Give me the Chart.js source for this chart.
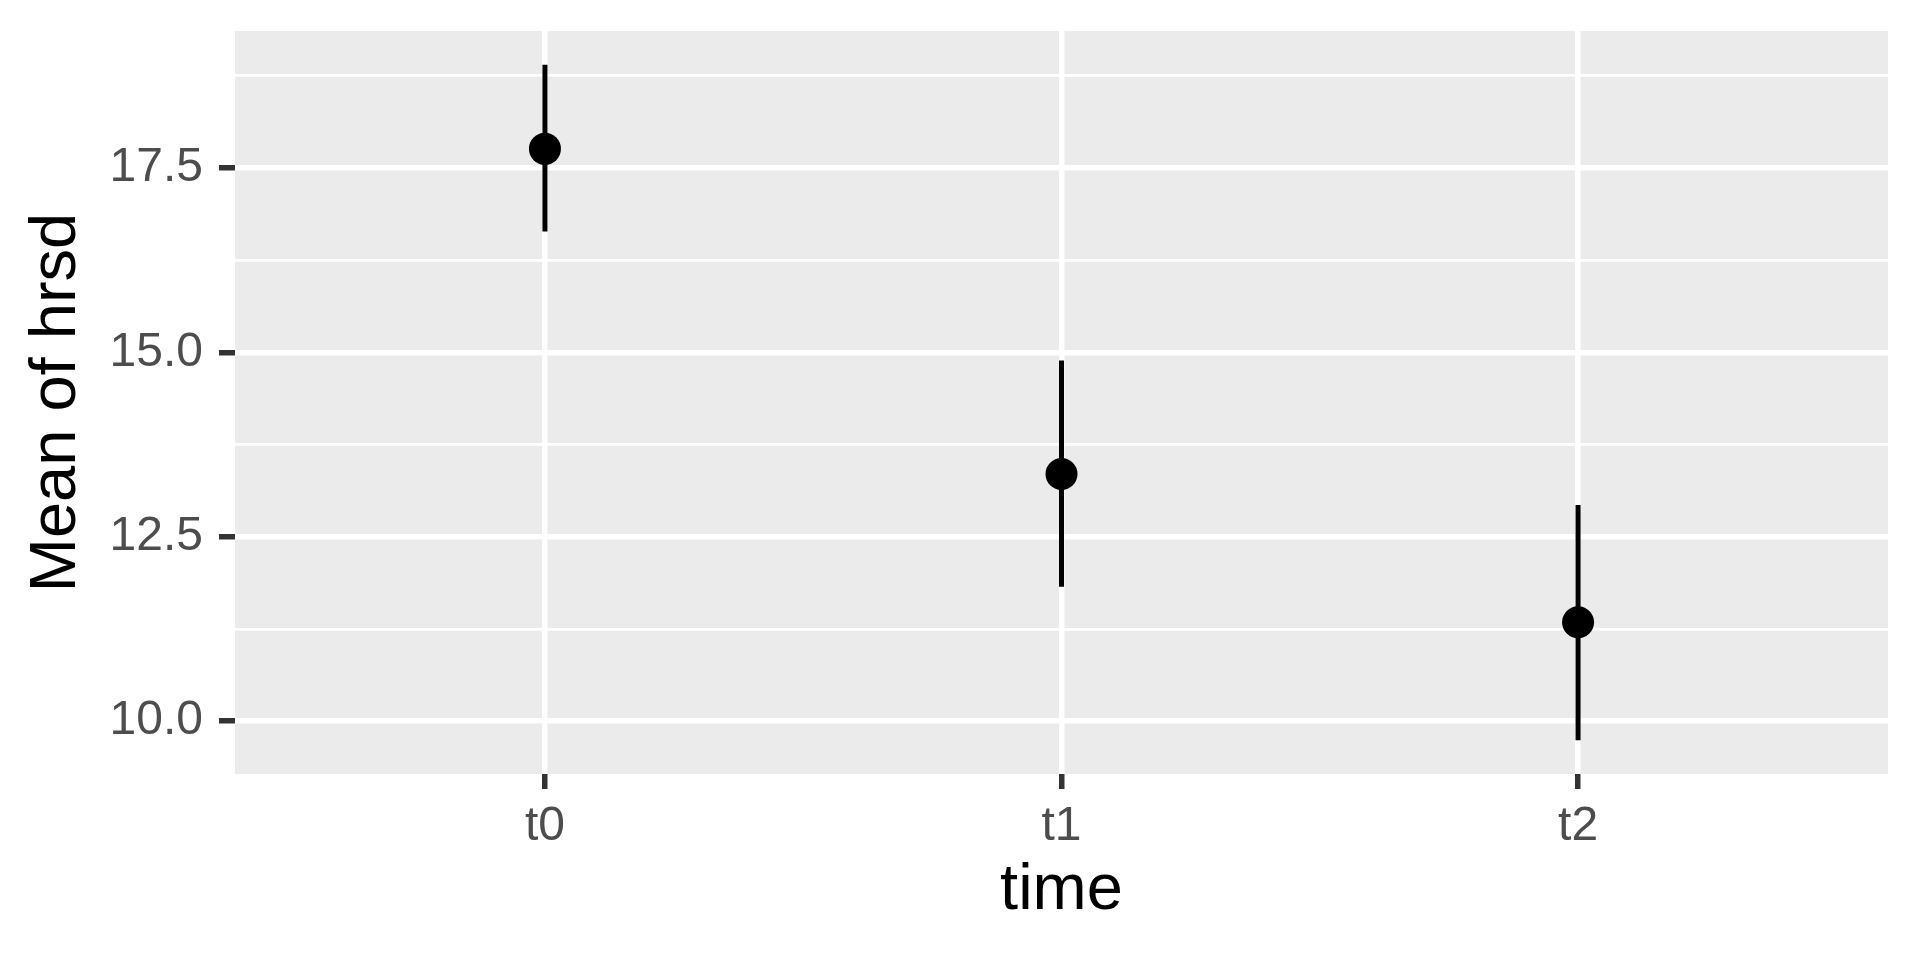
<!DOCTYPE html>
<html>
<head>
<meta charset="utf-8">
<script src="https://cdn.jsdelivr.net/npm/chart.js@4/dist/chart.umd.min.js"></script>
<style>
  html, body { margin: 0; padding: 0; background: #fff; }
  #wrap { width: 1920px; height: 960px; }
</style>
</head>
<body>
<div id="wrap"><canvas id="chart" width="1920" height="960"></canvas></div>
<script>
const categories = ['t0', 't1', 't2'];
const means = [17.76, 13.35, 11.34];
const lower = [16.64, 11.82, 9.74];
const upper = [18.90, 14.89, 12.93];
const yMajor = [10, 12.5, 15, 17.5];
const yMinor = [11.25, 13.75, 16.25, 18.75];

const FONT = "'Liberation Sans', Arial, sans-serif";

// grey panel behind the grid, like ggplot's theme_grey
const panelBg = {
    id: 'panelBg',
    beforeDraw(chart) {
        const { ctx, chartArea: a } = chart;
        ctx.save();
        ctx.fillStyle = '#EBEBEB';
        ctx.fillRect(a.left, a.top, a.right - a.left, a.bottom - a.top);
        ctx.restore();
    }
};

// vertical error bars from lower to upper, under the points
const errorBars = {
    id: 'errorBars',
    beforeDatasetsDraw(chart) {
        const { ctx, scales: { x, y } } = chart;
        ctx.save();
        ctx.strokeStyle = '#000';
        ctx.lineWidth = 5;
        ctx.lineCap = 'butt';
        categories.forEach((c, i) => {
            const px = x.getPixelForValue(i);
            ctx.beginPath();
            ctx.moveTo(px, y.getPixelForValue(lower[i]));
            ctx.lineTo(px, y.getPixelForValue(upper[i]));
            ctx.stroke();
        });
        ctx.restore();
    }
};

const isMajor = v => yMajor.includes(v);

new Chart(document.getElementById('chart'), {
    type: 'scatter',
    data: {
        datasets: [{
            data: means.map((m, i) => ({ x: i, y: m })),
            backgroundColor: '#000',
            borderWidth: 0,
            pointRadius: 16,
            pointHoverRadius: 16
        }]
    },
    options: {
        responsive: false,
        animation: false,
        layout: { padding: { top: 31, right: 32, left: 0, bottom: 0 } },
        plugins: { legend: { display: false }, tooltip: { enabled: false } },
        scales: {
            x: {
                type: 'linear',
                min: -0.6,
                max: 2.6,
                afterBuildTicks: s => { s.ticks = categories.map((c, i) => ({ value: i })); },
                afterFit: s => { s.height = 186; s.paddingLeft = 0; s.paddingRight = 0; },
                border: { display: false },
                grid: {
                    color: '#FFFFFF',
                    lineWidth: 5.5,
                    tickColor: '#333333',
                    tickWidth: 5.5,
                    tickLength: 15
                },
                ticks: {
                    callback: v => categories[v] ?? '',
                    color: '#4D4D4D',
                    font: { family: FONT, size: 48 },
                    padding: 9,
                    maxRotation: 0
                },
                title: {
                    display: true,
                    text: 'time',
                    color: '#000',
                    font: { family: FONT, size: 65, lineHeight: 1.2 },
                    padding: { top: 0, bottom: 30 }
                }
            },
            y: {
                type: 'linear',
                min: 9.282,
                max: 19.358,
                afterBuildTicks: s => {
                    s.ticks = yMajor.concat(yMinor).sort((a, b) => a - b).map(v => ({ value: v }));
                },
                afterFit: s => { s.width = 235; s.paddingTop = 0; s.paddingBottom = 0; },
                border: { display: false },
                grid: {
                    color: '#FFFFFF',
                    lineWidth: c => isMajor(c.tick.value) ? 5.5 : 2.75,
                    tickColor: c => isMajor(c.tick.value) ? '#333333' : 'rgba(0,0,0,0)',
                    tickWidth: 5.5,
                    tickLength: 16
                },
                ticks: {
                    callback: v => isMajor(v) ? v.toFixed(1) : '',
                    color: '#4D4D4D',
                    font: { family: FONT, size: 48 },
                    padding: 16
                },
                title: {
                    display: true,
                    text: 'Mean of hrsd',
                    color: '#000',
                    font: { family: FONT, size: 65, lineHeight: 1.2 },
                    padding: { top: 18, bottom: 0 }
                }
            }
        }
    },
    plugins: [panelBg, errorBars]
});
</script>
</body>
</html>
